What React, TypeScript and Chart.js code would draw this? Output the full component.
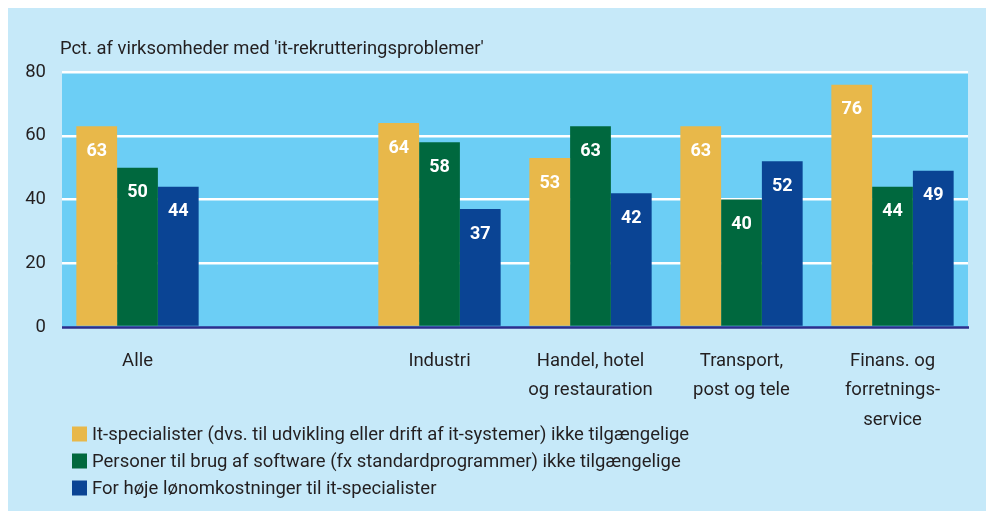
import React, { useEffect, useRef } from "react";
import { Chart, registerables } from "chart.js";

Chart.register(...registerables);

const categories: string[][] = [
  ["Alle"],
  [""],
  ["Industri"],
  ["Handel, hotel", "og restauration"],
  ["Transport,", "post og tele"],
  ["Finans. og", "forretnings-", "service"],
];
const seriesNames = [
  "It-specialister (dvs. til udvikling eller drift af it-systemer) ikke tilgængelige",
  "Personer til brug af software (fx standardprogrammer) ikke tilgængelige",
  "For høje lønomkostninger til it-specialister",
];
const itSpecialister = [63, null, 64, 53, 63, 76];
const softwarePersoner = [50, null, 58, 63, 40, 44];
const loenomkostninger = [44, null, 37, 42, 52, 49];
const yTicks = [0, 20, 40, 60, 80];
const titleText = "Pct. af virksomheder med 'it-rekrutteringsproblemer'";

const FONT = 'Roboto, "Open Sans", sans-serif';
const TEXT = "#231f20";
const COLORS = ["#e8b84a", "#00683e", "#0a4494"];

const customPlugin = {
  id: "custom",
  beforeDraw(chart: any) {
    const { ctx, chartArea } = chart;
    ctx.save();
    ctx.fillStyle = "#6ccef5";
    ctx.fillRect(chartArea.left, chartArea.top, chartArea.right - chartArea.left, chartArea.bottom - chartArea.top);
    ctx.restore();
  },
  afterDatasetsDraw(chart: any) {
    const { ctx, chartArea } = chart;
    const yScale = chart.scales.y;
    ctx.save();
    // zero line
    const y0 = yScale.getPixelForValue(0);
    ctx.strokeStyle = "#2b2e8c";
    ctx.lineWidth = 2.5;
    ctx.beginPath();
    ctx.moveTo(chartArea.left, y0 + 0.5);
    ctx.lineTo(chartArea.right + 1, y0 + 0.5);
    ctx.stroke();
    // value labels
    ctx.fillStyle = "#ffffff";
    ctx.font = `bold 18px ${FONT}`;
    ctx.textAlign = "center";
    ctx.textBaseline = "middle";
    chart.data.datasets.forEach((ds: any, i: number) => {
      const meta = chart.getDatasetMeta(i);
      meta.data.forEach((bar: any, j: number) => {
        const v = ds.data[j];
        if (v == null) return;
        ctx.fillText(String(v), bar.x, bar.y + 25);
      });
    });
    // title
    ctx.fillStyle = TEXT;
    ctx.font = `18.4px ${FONT}`;
    ctx.textAlign = "left";
    ctx.fillText(titleText, 52, 41);
    // legend
    ctx.font = `18.5px ${FONT}`;
    chart.data.datasets.forEach((ds: any, i: number) => {
      const cy = 426 + i * 27;
      ctx.fillStyle = ds.backgroundColor;
      ctx.fillRect(64, cy - 7.5, 15, 15);
      ctx.fillStyle = TEXT;
      ctx.fillText(ds.label, 84, cy + 1);
    });
    ctx.restore();
  },
};

export default function App() {
  const ref = useRef<HTMLCanvasElement>(null);
  useEffect(() => {
    document.documentElement.style.overflow = "hidden";
    document.body.style.overflow = "hidden";
    if (!ref.current) return;
    const chart = new Chart(ref.current, {
      type: "bar",
      data: {
        labels: categories,
        datasets: [
          { label: seriesNames[0], data: itSpecialister, backgroundColor: COLORS[0] },
          { label: seriesNames[1], data: softwarePersoner, backgroundColor: COLORS[1] },
          { label: seriesNames[2], data: loenomkostninger, backgroundColor: COLORS[2] },
        ],
      },
      options: {
        responsive: false,
        animation: false,
        layout: { padding: { top: 64, right: 23, bottom: 0, left: 0 } },
        datasets: { bar: { categoryPercentage: 0.81, barPercentage: 1 } },
        plugins: {
          legend: { display: false },
          tooltip: { enabled: false },
          title: { display: false },
        },
        scales: {
          x: {
            grid: { display: false, drawTicks: false },
            border: { display: false },
            ticks: {
              color: TEXT,
              font: { family: FONT, size: 18.5, lineHeight: 1.58 },
              padding: 20,
              maxRotation: 0,
              autoSkip: false,
            },
            afterFit: (scale: any) => {
              scale.height = 184;
            },
          },
          y: {
            min: 0,
            max: 80,
            afterBuildTicks: (scale: any) => {
              scale.ticks = yTicks.map((v) => ({ value: v }));
            },
            grid: {
              color: (c: any) => (c.tick && c.tick.value === 0 ? "rgba(0,0,0,0)" : "#ffffff"),
              lineWidth: 2.5,
              drawTicks: false,
            },
            border: { display: false },
            ticks: {
              color: TEXT,
              font: { family: FONT, size: 18.5 },
              padding: 16,
            },
            afterFit: (scale: any) => {
              scale.width = 54;
            },
          },
        },
      },
      plugins: [customPlugin],
    });
    return () => chart.destroy();
  }, []);
  return (
    <canvas
      ref={ref}
      width={983}
      height={503}
      style={{ display: "block", background: "#c6e9f9", width: 983, height: 503 }}
    />
  );
}
